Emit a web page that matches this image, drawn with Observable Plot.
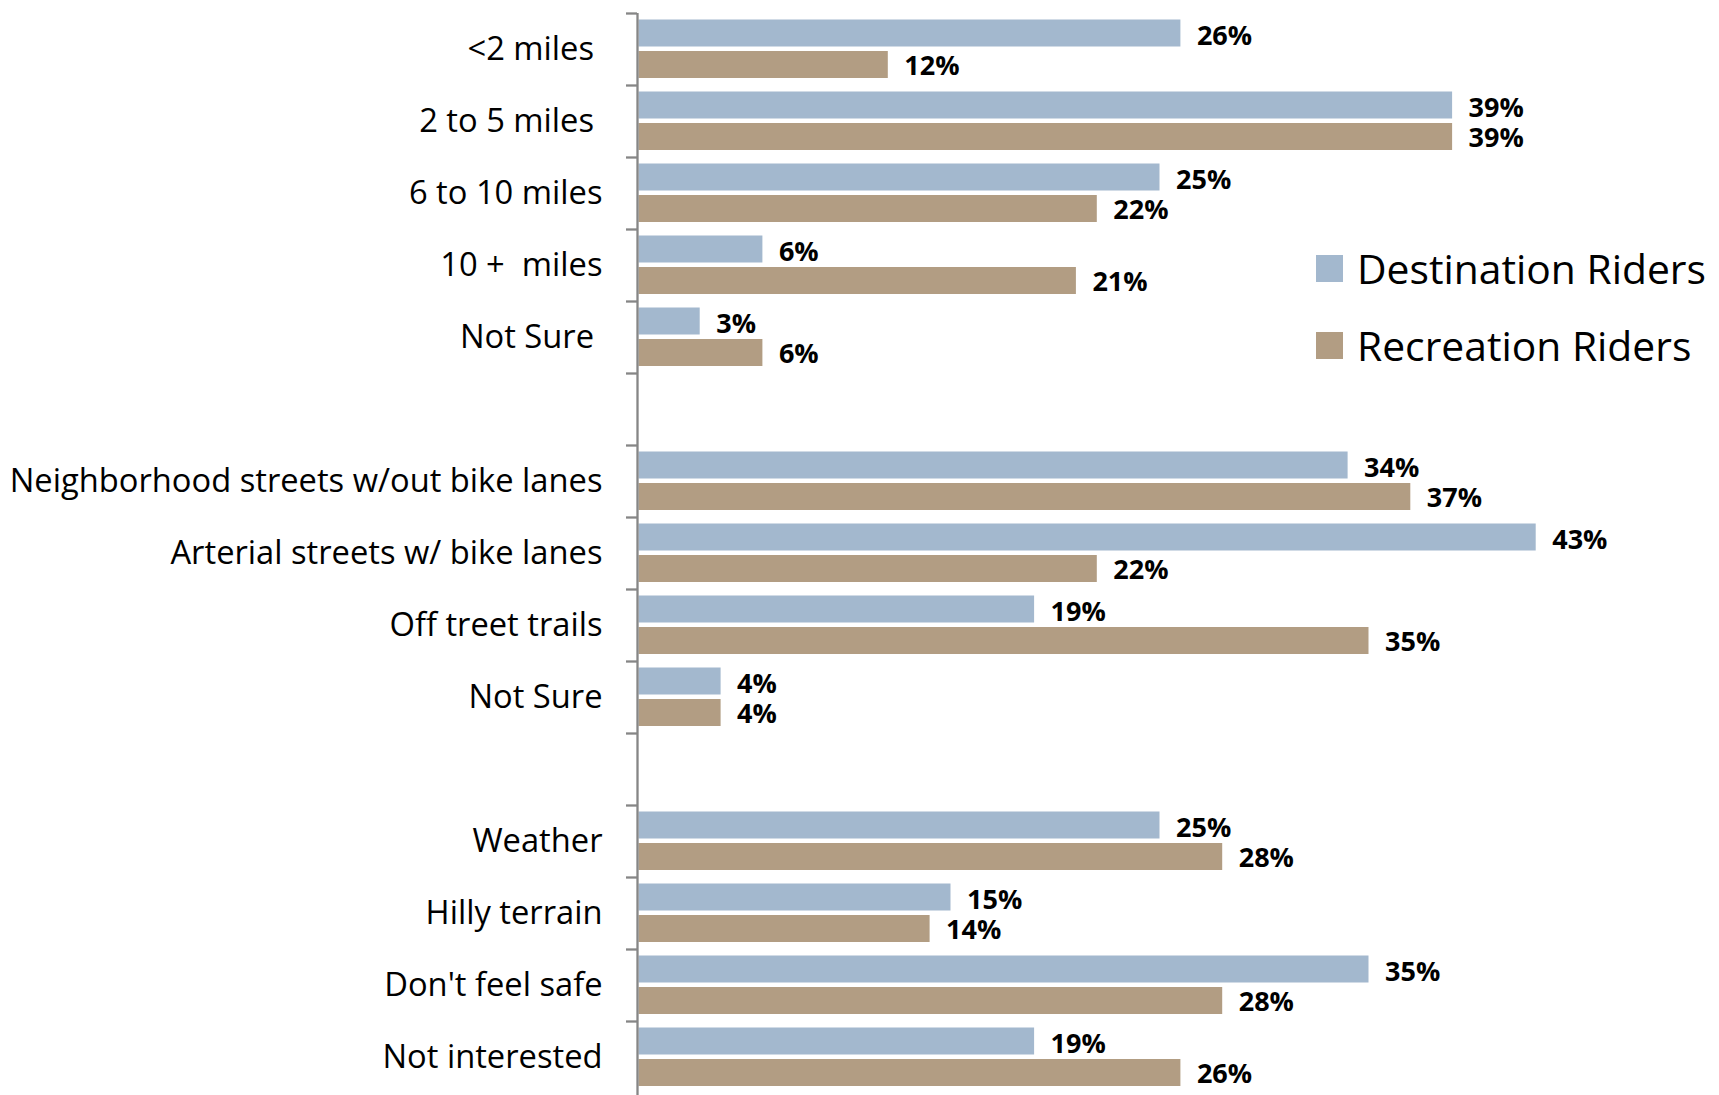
<!DOCTYPE html>
<html>
<head>
<meta charset="utf-8">
<script src="https://cdn.jsdelivr.net/npm/d3@7"></script>
<script src="https://cdn.jsdelivr.net/npm/@observablehq/plot@0.6"></script>
<style>
  html, body { margin: 0; padding: 0; background: #fff; }
  #wrap { position: relative; width: 1719px; height: 1095px; }
  #wrap svg text { white-space: pre; }
  .legend { position: absolute; left: 1316px; top: 254px; font-family: "Open Sans", sans-serif; font-size: 40.8px; color: #000; }
  .legend .row { display: flex; align-items: center; height: 28px; margin-bottom: 49px; }
  .legend .sw { width: 27px; height: 27px; margin-right: 14px; flex: none; }
  .legend .lab { white-space: nowrap; line-height: 28px; }
</style>
</head>
<body>
<div id="wrap"></div>
<script>
// Categories (three groups, separated by blank rows)
const distanceCats = ["<2 miles ", "2 to 5 miles ", "6 to 10 miles", "10 +  miles", "Not Sure "];
const routeCats = ["Neighborhood streets w/out bike lanes", "Arterial streets w/ bike lanes", "Off treet trails", "Not Sure"];
const barrierCats = ["Weather", "Hilly terrain", "Don't feel safe", "Not interested"];

// Series values (percent)
const distanceDestination = [26, 39, 25, 6, 3];
const distanceRecreation  = [12, 39, 22, 21, 6];
const routeDestination    = [34, 43, 19, 4];
const routeRecreation     = [37, 22, 35, 4];
const barrierDestination  = [25, 15, 35, 19];
const barrierRecreation   = [28, 14, 28, 26];

const seriesNames = ["Destination Riders", "Recreation Riders"];
const seriesColors = ["#A3B8CE", "#B29D83"];

// Build keyed domain (unique keys because "Not Sure" repeats), with blank rows between groups
const groups = [
  {id: "dist", cats: distanceCats, dest: distanceDestination, rec: distanceRecreation},
  {id: "route", cats: routeCats, dest: routeDestination, rec: routeRecreation},
  {id: "barrier", cats: barrierCats, dest: barrierDestination, rec: barrierRecreation}
];
const domain = [];
const rows = [];
groups.forEach((g, gi) => {
  if (gi > 0) domain.push("gap" + gi);
  g.cats.forEach((c, i) => {
    const key = g.id + "|" + c;
    domain.push(key);
    rows.push({key, series: seriesNames[0], value: g.dest[i]});
    rows.push({key, series: seriesNames[1], value: g.rec[i]});
  });
});
const destRows = rows.filter(d => d.series === seriesNames[0]);
const recRows = rows.filter(d => d.series === seriesNames[1]);
const labelOf = k => k.startsWith("gap") ? "" : k.slice(k.indexOf("|") + 1);

const axisColor = "#868686";

const chart = Plot.plot({
  width: 1719,
  height: 1095,
  marginLeft: 637,
  marginRight: 37,
  marginTop: 13,
  marginBottom: 2,
  style: {fontFamily: "'Open Sans', sans-serif", background: "#fff"},
  x: {domain: [0, 50], axis: null},
  y: {domain, padding: 0, axis: null, label: null},
  marks: [
    Plot.barX(destRows, {x: "value", y: "key", fill: seriesColors[0], insetTop: 6.5, insetBottom: 38.5, insetLeft: 1.5}),
    Plot.barX(recRows, {x: "value", y: "key", fill: seriesColors[1], insetTop: 38, insetBottom: 7, insetLeft: 1.5}),
    Plot.text(destRows, {x: "value", y: "key", text: d => d.value + "%", textAnchor: "start", dx: 16, dy: -13.5, fontSize: 27, fontWeight: "bold", fill: "#000"}),
    Plot.text(recRows, {x: "value", y: "key", text: d => d.value + "%", textAnchor: "start", dx: 16, dy: 17, fontSize: 27, fontWeight: "bold", fill: "#000"}),
    Plot.ruleX([0], {stroke: axisColor, strokeWidth: 2.3, insetBottom: -3}),
    Plot.ruleY(domain, {y: d => d, x1: 0, x2: 0, insetLeft: -11, dy: -36, stroke: axisColor, strokeWidth: 2.3}),
    Plot.axisY({tickSize: 0, tickPadding: 35, tickFormat: labelOf, fontSize: 32.7, fill: "#000", anchor: "left", label: null})
  ]
});

const wrap = document.getElementById("wrap");
wrap.appendChild(chart);

const legend = document.createElement("div");
legend.className = "legend";
seriesNames.forEach((name, i) => {
  const row = document.createElement("div");
  row.className = "row";
  const sw = document.createElement("div");
  sw.className = "sw";
  sw.style.background = seriesColors[i];
  const lab = document.createElement("div");
  lab.className = "lab";
  lab.textContent = name;
  row.appendChild(sw);
  row.appendChild(lab);
  legend.appendChild(row);
});
wrap.appendChild(legend);
</script>
</body>
</html>
